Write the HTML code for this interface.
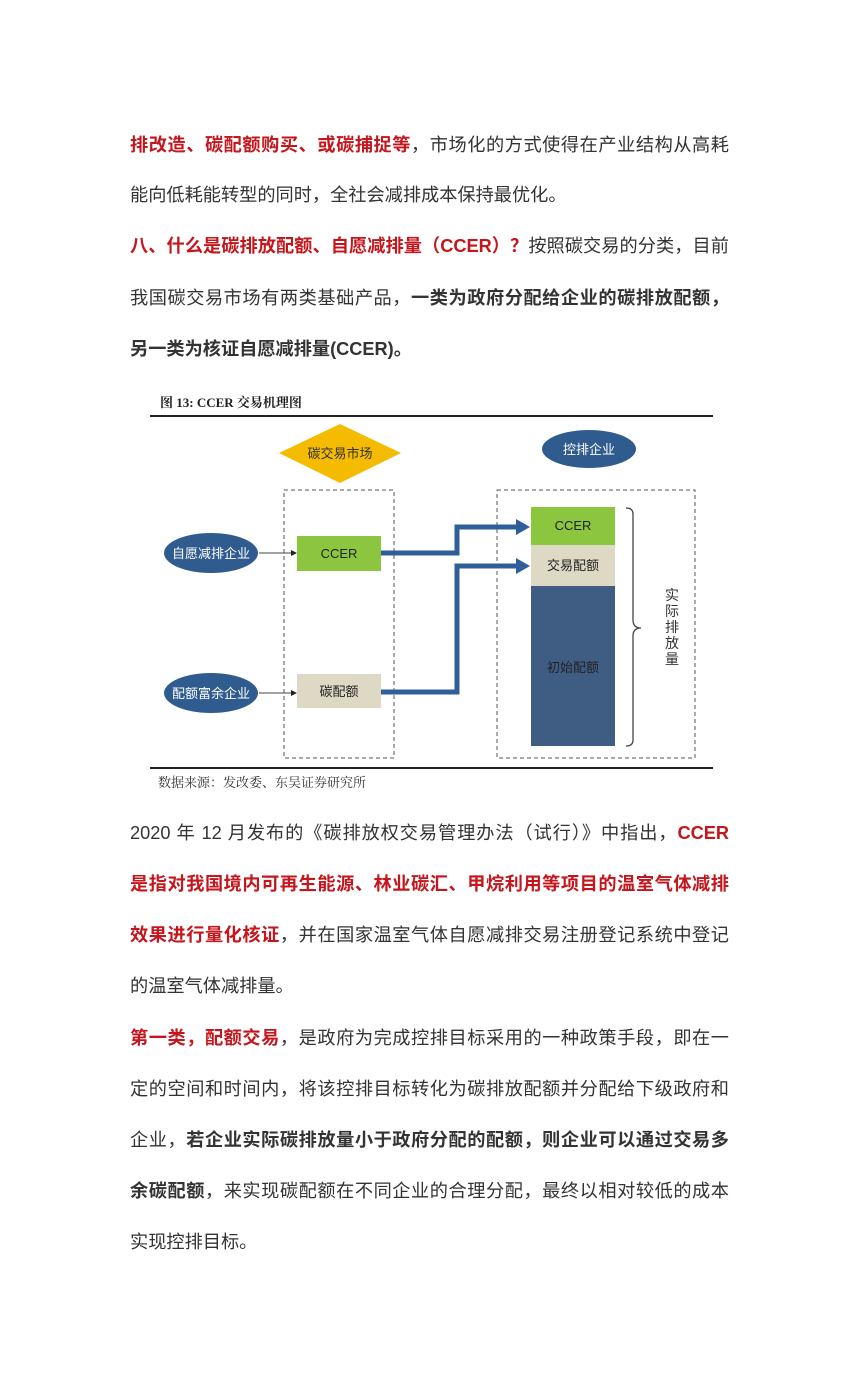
<!DOCTYPE html>
<html><head><meta charset="utf-8"><style>
body{margin:0;background:#fff;width:860px;height:1378px;position:relative;overflow:hidden;font-family:"Liberation Sans","Noto Sans CJK SC",sans-serif;color:#333}
.l{position:absolute;left:130px;width:599px;font-size:18.2px;line-height:24px;white-space:nowrap}
.j{text-align:justify;text-align-last:justify}
.r{color:#c4161c;font-weight:bold}
.b{font-weight:bold}
</style></head><body>
<div class="l j" style="top:133px"><span class="r">排改造、碳配额购买、或碳捕捉等</span>，市场化的方式使得在产业结构从高耗</div>
<div class="l" style="top:183px">能向低耗能转型的同时，全社会减排成本保持最优化。</div>
<div class="l j" style="top:234px"><span class="r">八、什么是碳排放配额、自愿减排量（CCER）？</span>按照碳交易的分类，目前</div>
<div class="l j" style="top:286px">我国碳交易市场有两类基础产品，<span class="b">一类为政府分配给企业的碳排放配额，</span></div>
<div class="l b" style="top:337px">另一类为核证自愿减排量(CCER)。</div>

<svg style="position:absolute;left:0;top:0" width="860" height="800">
<text x="160" y="407" font-family="Liberation Serif,Noto Serif CJK SC,serif" font-weight="bold" font-size="13" fill="#222">图 13:  CCER 交易机理图</text>
<line x1="150" y1="416" x2="713" y2="416" stroke="#222" stroke-width="2"/>
<polygon points="340,424 401,453 340,483 279,453" fill="#f5bb00"/>
<text x="340" y="458" text-anchor="middle" font-size="13" fill="#333">碳交易市场</text>
<ellipse cx="589" cy="449" rx="47" ry="19" fill="#2f5b8f"/>
<text x="589" y="454" text-anchor="middle" font-size="13" fill="#fff">控排企业</text>
<rect x="284" y="490" width="110" height="268" fill="none" stroke="#555" stroke-dasharray="4,3"/>
<rect x="497" y="490" width="198" height="268" fill="none" stroke="#555" stroke-dasharray="4,3"/>
<ellipse cx="211" cy="553" rx="47" ry="20" fill="#2f5b8f"/>
<text x="211" y="558" text-anchor="middle" font-size="13" fill="#fff">自愿减排企业</text>
<ellipse cx="211" cy="693" rx="47" ry="20" fill="#2f5b8f"/>
<text x="211" y="698" text-anchor="middle" font-size="13" fill="#fff">配额富余企业</text>
<line x1="259" y1="553" x2="292" y2="553" stroke="#444"/><polygon points="297,553 291,550 291,556" fill="#222"/>
<line x1="259" y1="693" x2="292" y2="693" stroke="#444"/><polygon points="297,693 291,690 291,696" fill="#222"/>
<rect x="297" y="536" width="84" height="35" fill="#8cc63f"/>
<text x="339" y="558" text-anchor="middle" font-size="13" fill="#222">CCER</text>
<rect x="297" y="674" width="84" height="34" fill="#ddd9c4"/>
<text x="339" y="696" text-anchor="middle" font-size="13" fill="#222">碳配额</text>
<rect x="531" y="507" width="84" height="38" fill="#8cc63f"/>
<text x="573" y="530" text-anchor="middle" font-size="13" fill="#222">CCER</text>
<rect x="531" y="545" width="84" height="41" fill="#ddd9c4"/>
<text x="573" y="570" text-anchor="middle" font-size="13" fill="#222">交易配额</text>
<rect x="531" y="586" width="84" height="160" fill="#3f5d83"/>
<text x="573" y="672" text-anchor="middle" font-size="13" fill="#222">初始配额</text>
<polyline points="381,553 457,553 457,527 518,527" fill="none" stroke="#2f5f98" stroke-width="5"/>
<polygon points="530,527 516,519 516,535" fill="#2f5f98"/>
<polyline points="381,692 457,692 457,566 518,566" fill="none" stroke="#2f5f98" stroke-width="5"/>
<polygon points="530,566 516,558 516,574" fill="#2f5f98"/>
<path d="M626,508 Q633,508 633,514 L633,620 Q633,628 641,628 Q633,628 633,636 L633,740 Q633,746 626,746" fill="none" stroke="#444" stroke-width="1.3"/>
<g font-size="14" fill="#333" text-anchor="middle">
<text x="672" y="600">实</text><text x="672" y="616">际</text><text x="672" y="632">排</text><text x="672" y="648">放</text><text x="672" y="664">量</text></g>
<line x1="150" y1="768" x2="713" y2="768" stroke="#222" stroke-width="2"/>
<text x="158" y="787" font-family="Liberation Serif,Noto Serif CJK SC,serif" font-size="13" fill="#333">数据来源：发改委、东吴证券研究所</text>
</svg>

<div class="l j" style="top:821px">2020 年 12 月发布的《碳排放权交易管理办法（试行）》中指出，<span class="r">CCER</span></div>
<div class="l j r" style="top:872px">是指对我国境内可再生能源、林业碳汇、甲烷利用等项目的温室气体减排</div>
<div class="l j" style="top:923px"><span class="r">效果进行量化核证</span>，并在国家温室气体自愿减排交易注册登记系统中登记</div>
<div class="l" style="top:974px">的温室气体减排量。</div>
<div class="l j" style="top:1026px"><span class="r">第一类，配额交易</span>，是政府为完成控排目标采用的一种政策手段，即在一</div>
<div class="l j" style="top:1077px">定的空间和时间内，将该控排目标转化为碳排放配额并分配给下级政府和</div>
<div class="l j" style="top:1128px">企业，<span class="b">若企业实际碳排放量小于政府分配的配额，则企业可以通过交易多</span></div>
<div class="l j" style="top:1179px"><span class="b">余碳配额</span>，来实现碳配额在不同企业的合理分配，最终以相对较低的成本</div>
<div class="l" style="top:1230px">实现控排目标。</div>
</body></html>
